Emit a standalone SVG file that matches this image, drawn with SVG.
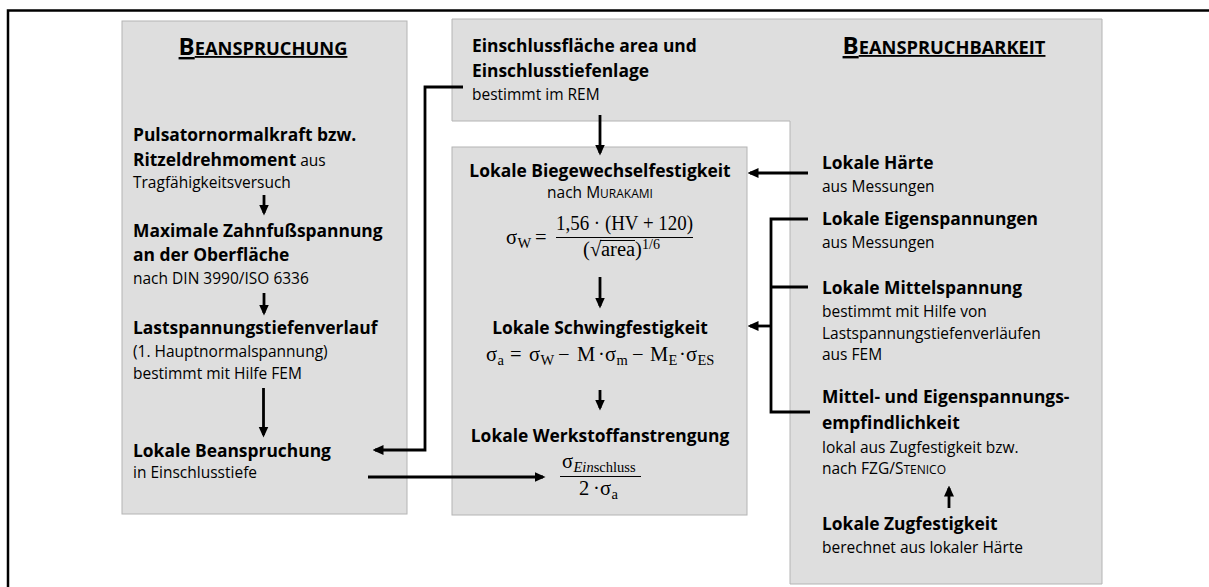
<svg xmlns="http://www.w3.org/2000/svg" width="1209" height="587" viewBox="0 0 1209 587">
<style>
.box{fill:#dedede;stroke:#b4b4b4;stroke-width:1}
.b{font-family:"Open Sans","Liberation Sans",sans-serif;font-weight:700;font-size:17.4px;fill:#000}
.r{font-family:"Open Sans","Liberation Sans",sans-serif;font-weight:400;font-size:15.5px;fill:#000}
.t{font-family:"Open Sans","Liberation Sans",sans-serif;font-weight:700;fill:#000;text-decoration:underline}
.m{font-family:"Liberation Serif","DejaVu Serif",serif;font-size:20.5px;fill:#000}
.s{font-size:14.5px}
.c{fill:none;stroke:#000;stroke-width:2.8}
.f{stroke:#000;stroke-width:1.1}
</style>
<defs>
<marker id="ah" markerUnits="userSpaceOnUse" markerWidth="11" markerHeight="11" viewBox="0 0 11 11" refX="8.5" refY="5.5" orient="auto">
<path d="M0,0.5 L11,5.5 L0,10.5 z" fill="#000"/>
</marker>
</defs>
<path d="M1209,10.5 H8 V587" fill="none" stroke="#000" stroke-width="2.5"/>

<g id="beanspruchung">
<rect class="box" x="122" y="21" width="285" height="493"/>
<text class="t" x="263" y="55" text-anchor="middle"><tspan font-size="24">B</tspan><tspan font-size="18.3">EANSPRUCHUNG</tspan></text>
<text class="b" x="133" y="141">Pulsatornormalkraft bzw.</text>
<text x="133" y="166"><tspan class="b">Ritzeldrehmoment</tspan><tspan class="r"> aus</tspan></text>
<text class="r" x="133" y="188">Tragfähigkeitsversuch</text>
<text class="b" x="133" y="237">Maximale Zahnfußspannung</text>
<text class="b" x="133" y="261">an der Oberfläche</text>
<text class="r" x="133" y="283.5">nach DIN 3990/ISO 6336</text>
<text class="b" x="133" y="334">Lastspannungstiefenverlauf</text>
<text class="r" x="133" y="356.5">(1. Hauptnormalspannung)</text>
<text class="r" x="133" y="379">bestimmt mit Hilfe FEM</text>
<text class="b" x="133" y="457">Lokale Beanspruchung</text>
<text class="r" x="133" y="478">in Einschlusstiefe</text>
</g>

<g id="beanspruchbarkeit">
<path class="box" d="M452,19 H1102 V584 H790 V121 H452 Z"/>
<text class="b" x="472" y="51.5">Einschlussfläche area und</text>
<text class="b" x="472" y="77">Einschlusstiefenlage</text>
<text class="r" x="472" y="100">bestimmt im REM</text>
<text class="t" x="944" y="54" text-anchor="middle"><tspan font-size="24">B</tspan><tspan font-size="18.3">EANSPRUCHBARKEIT</tspan></text>
<text class="b" x="822" y="168.5">Lokale Härte</text>
<text class="r" x="822" y="191.5">aus Messungen</text>
<text class="b" x="822" y="224.5">Lokale Eigenspannungen</text>
<text class="r" x="822" y="247.5">aus Messungen</text>
<text class="b" x="822" y="294">Lokale Mittelspannung</text>
<text class="r" x="822" y="316.5">bestimmt mit Hilfe von</text>
<text class="r" x="822" y="338.5">Lastspannungstiefenverläufen</text>
<text class="r" x="822" y="360">aus FEM</text>
<text class="b" x="822" y="402.5">Mittel- und Eigenspannungs-</text>
<text class="b" x="822" y="429">empfindlichkeit</text>
<text class="r" x="822" y="452.5">lokal aus Zugfestigkeit bzw.</text>
<text class="r" x="822" y="473.5">nach FZG/S<tspan font-size="12">TENICO</tspan></text>
<text class="b" x="822" y="529.5">Lokale Zugfestigkeit</text>
<text class="r" x="822" y="552.5">berechnet aus lokaler Härte</text>
</g>

<g id="festigkeit">
<rect class="box" x="452" y="147" width="295" height="368"/>
<text class="b" x="600" y="176.5" text-anchor="middle">Lokale Biegewechselfestigkeit</text>
<text class="r" x="600" y="198" text-anchor="middle">nach M<tspan font-size="12">URAKAMI</tspan></text>
<text class="m" x="506" y="244">σ<tspan class="s" x="517.5" dy="3.5">W</tspan><tspan x="535" dy="-3.5">=</tspan></text>
<text class="m" x="624.5" y="230" text-anchor="middle" textLength="137" lengthAdjust="spacingAndGlyphs">1,56 · (HV + 120)</text>
<line class="f" x1="556" y1="237.5" x2="693" y2="237.5"/>
<text class="m" x="583" y="256">(<tspan x="590">√</tspan><tspan x="601">area</tspan><tspan x="635">)</tspan><tspan x="642" dy="-7" font-size="14">1/6</tspan></text>
<line class="f" x1="600" y1="240.5" x2="635" y2="240.5"/>
<text class="b" x="600" y="333.5" text-anchor="middle">Lokale Schwingfestigkeit</text>
<text class="m" x="486" y="361">σ<tspan class="s" x="497.5" dy="3.5">a</tspan><tspan x="510" dy="-3.5">=</tspan><tspan x="529">σ</tspan><tspan class="s" x="540.5" dy="3.5">W</tspan><tspan x="558" dy="-3.5">−</tspan><tspan x="577">M</tspan><tspan x="598">·</tspan><tspan x="605">σ</tspan><tspan class="s" x="616.5" dy="3.5">m</tspan><tspan x="632" dy="-3.5">−</tspan><tspan x="650">M</tspan><tspan class="s" x="668.5" dy="3.5">E</tspan><tspan x="679" dy="-3.5">·</tspan><tspan x="686">σ</tspan><tspan class="s" x="697.5" dy="3.5">ES</tspan></text>
<text class="b" x="600" y="441.5" text-anchor="middle">Lokale Werkstoffanstrengung</text>
<text class="m" x="562" y="468">σ<tspan class="s" x="573.5" dy="3.5" font-style="italic">Ein</tspan><tspan class="s">schluss</tspan></text>
<line class="f" x1="560" y1="476.5" x2="641" y2="476.5"/>
<text class="m" x="579" y="495">2<tspan x="593">·</tspan><tspan x="600">σ</tspan><tspan class="s" x="611.5" dy="3.5">a</tspan></text>
</g>

<g id="connectors">
<path class="c" d="M264,195 V213" marker-end="url(#ah)"/>
<path class="c" d="M264,293 V313" marker-end="url(#ah)"/>
<path class="c" d="M263.5,388 V435" marker-end="url(#ah)"/>
<path class="c" d="M463,87 H425 V450 H375" marker-end="url(#ah)"/>
<path class="c" d="M368,477 H543" marker-end="url(#ah)"/>
<path class="c" d="M600,115 V153" marker-end="url(#ah)"/>
<path class="c" d="M600,277 V306" marker-end="url(#ah)"/>
<path class="c" d="M600,390 V408" marker-end="url(#ah)"/>
<path class="c" d="M808,173 H750" marker-end="url(#ah)"/>
<path class="c" d="M808,219 H771 V412 H810"/>
<path class="c" d="M771,287 H808"/>
<path class="c" d="M771,326 H750" marker-end="url(#ah)"/>
<path class="c" d="M949,508 V488" marker-end="url(#ah)"/>
</g>
</svg>
